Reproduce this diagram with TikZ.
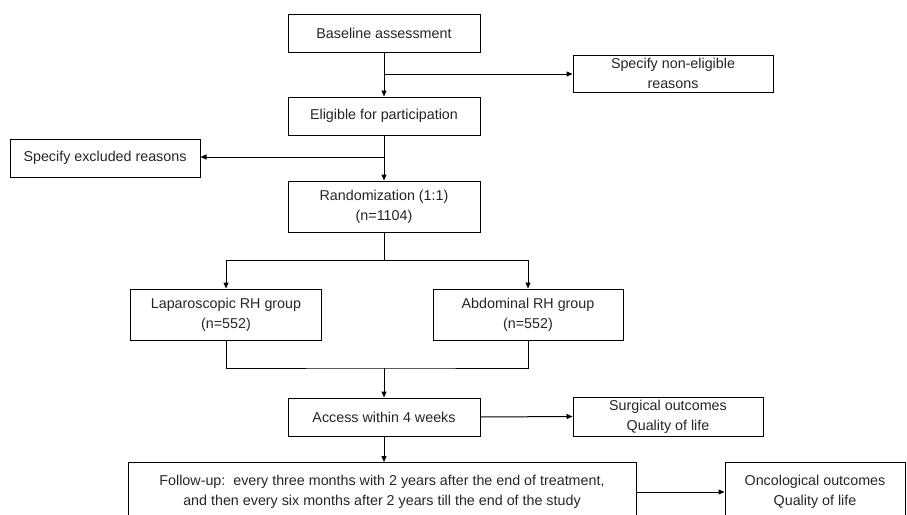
\documentclass[tikz,border=0pt]{standalone}
\usepackage{fontspec}
\setmainfont{Liberation Sans}
\usetikzlibrary{arrows.meta}
\begin{document}
\begin{tikzpicture}[x=1pt,y=-1pt,
  box/.style={draw=black,line width=1pt,fill=white,inner sep=1pt,align=center,
    font=\fontsize{14.3}{20}\selectfont,text=black!85},
  conn/.style={draw=black,line width=1pt},
  arr/.style={conn,-{Triangle[length=6pt,width=5pt]}}]
\path[use as bounding box,fill=white] (0,0) rectangle (907,514);
\clip (0,0) rectangle (907,514);
\node[box,minimum width=192pt,minimum height=38pt] (base) at (384,33) {Baseline assessment};
\node[box,minimum width=200pt,minimum height=37pt] (nonel) at (673,73.5) {Specify non-eligible\\reasons};
\node[box,minimum width=192pt,minimum height=38pt] (elig) at (384,116) {Eligible for participation};
\node[box,minimum width=190pt,minimum height=38pt] (excl) at (105,158) {Specify excluded reasons};
\node[box,minimum width=192pt,minimum height=51pt] (rand) at (384,206.5) {Randomization (1:1)\\(n=1104)};
\node[box,minimum width=191pt,minimum height=51pt] (lap) at (226,314.5) {Laparoscopic RH group\\(n=552)};
\node[box,minimum width=190pt,minimum height=51pt] (abd) at (528,314.5) {Abdominal RH group\\(n=552)};
\node[box,minimum width=192pt,minimum height=38pt] (access) at (384,417) {Access within 4 weeks};
\node[box,minimum width=190pt,minimum height=39pt] (surg) at (668,416.5) {Surgical outcomes\\Quality of life};
\node[box,minimum width=508pt,minimum height=58pt,anchor=north] (follow) at (382,462) {Follow-up:\ \ every three months with 2 years after the end of treatment,\\and then every six months after 2 years till the end of the study};
\node[box,minimum width=180pt,minimum height=58pt,anchor=north] (onc) at (815,462) {Oncological outcomes\\Quality of life};
\coordinate (b1) at (384,74);
\coordinate (b2) at (384,157);
\coordinate (b3) at (384,260);
\coordinate (b4) at (384,368);
\draw[arr] (base.south) -- (elig.north);
\draw[arr] (b1) -- (nonel.west |- b1);
\draw[arr] (elig.south) -- (rand.north);
\draw[arr] (b2) -- (excl.east |- b2);
\draw[conn] (rand.south) -- (b3);
\draw[arr] (b3) -| (lap.north);
\draw[arr] (b3) -| (abd.north);
\draw[conn] (lap.south) |- (b4) -| (abd.south);
\draw[arr] (b4) -- (access.north);
\draw[arr] (access.east) -- (surg.west);
\draw[arr] (access.south) -- (access.south |- follow.north);
\draw[arr] (follow.east |- 0,492) -- (onc.west |- 0,492);
\end{tikzpicture}
\end{document}
